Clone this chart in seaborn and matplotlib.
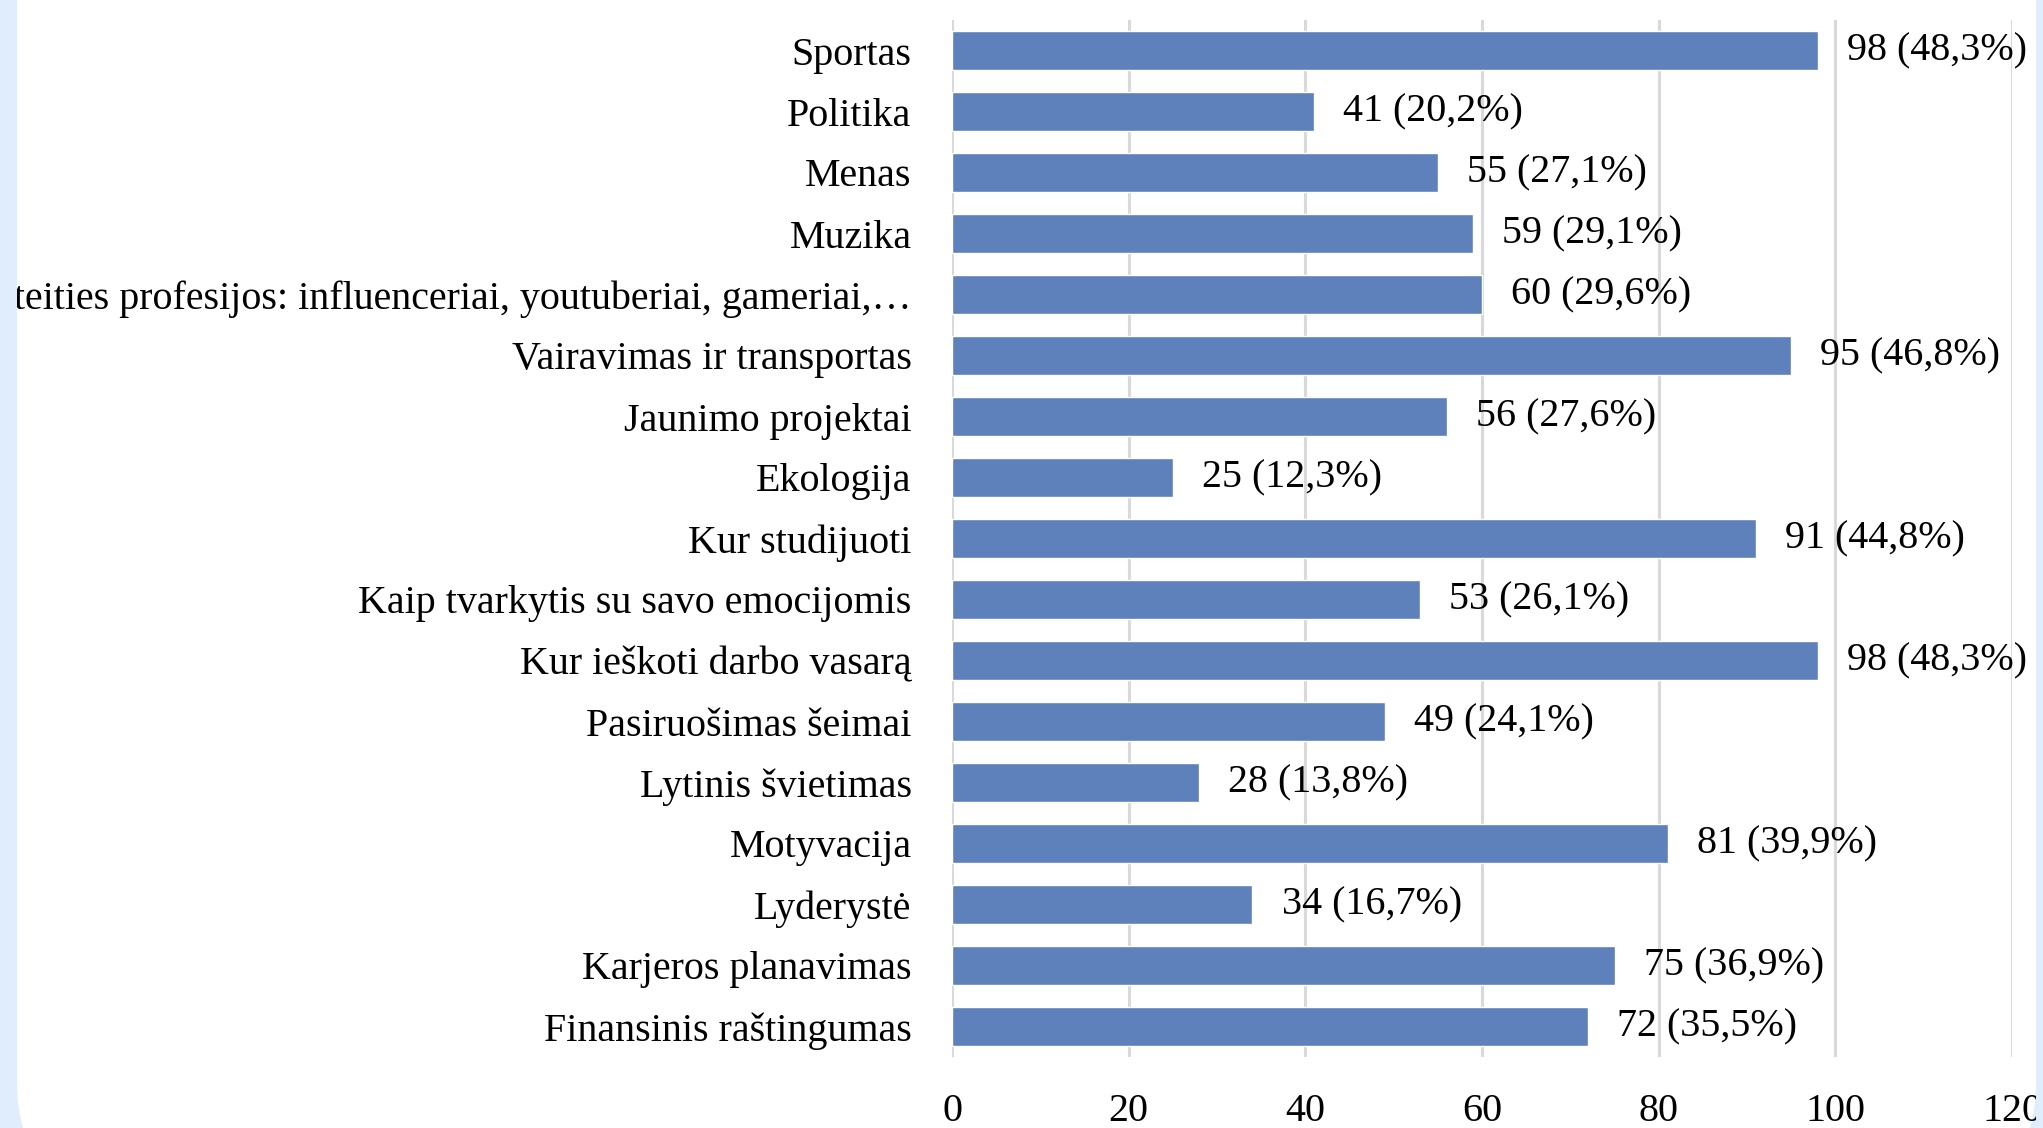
import numpy as np
import pandas as pd
import matplotlib
matplotlib.use("Agg")
import matplotlib.pyplot as plt
import seaborn as sns
from matplotlib.patches import FancyBboxPatch, Rectangle

# ─────────────────────────────────────────────
# DATA
# ─────────────────────────────────────────────
temos = [
    "Sportas",
    "Politika",
    "Menas",
    "Muzika",
    "Ateities profesijos: influenceriai, youtuberiai, gameriai,…",
    "Vairavimas ir transportas",
    "Jaunimo projektai",
    "Ekologija",
    "Kur studijuoti",
    "Kaip tvarkytis su savo emocijomis",
    "Kur ieškoti darbo vasarą",
    "Pasiruošimas šeimai",
    "Lytinis švietimas",
    "Motyvacija",
    "Lyderystė",
    "Karjeros planavimas",
    "Finansinis raštingumas",
]
kiekis = [98, 41, 55, 59, 60, 95, 56, 25, 91, 53, 98, 49, 28, 81, 34, 75, 72]
procentai = ["48,3", "20,2", "27,1", "29,1", "29,6", "46,8", "27,6", "12,3",
             "44,8", "26,1", "48,3", "24,1", "13,8", "39,9", "16,7", "36,9",
             "35,5"]
x_ticks = [0, 20, 40, 60, 80, 100, 120]

df = pd.DataFrame({"tema": temos, "kiekis": kiekis})

# ─────────────────────────────────────────────
# STILIUS
# ─────────────────────────────────────────────
BAR = "#5E81BC"
GRID = "#D9D9D9"
FONAS = "#E0EDFD"
FS = 28.8

sns.set_style("white")
plt.rcParams["font.family"] = ["Liberation Serif", "DejaVu Serif"]
plt.rcParams["text.color"] = "black"
plt.rcParams["xtick.color"] = "black"
plt.rcParams["ytick.color"] = "black"

W, H = 2043, 1128
fig = plt.figure(figsize=(W / 100, H / 100), dpi=100, facecolor=FONAS)

# balta kortelė su apvaliais kampais
kortele = FancyBboxPatch((17, -61), 2036 - 17, H + 200,
                         boxstyle="round,pad=0,rounding_size=106",
                         transform=None, facecolor="white",
                         edgecolor="none", zorder=-5)
fig.patches.append(kortele)

ax = fig.add_axes([952 / W, 1 - 1057 / H, (2012 - 952) / W, (1057 - 20) / H])
ax.set_facecolor("none")

sns.barplot(data=df, x="kiekis", y="tema", orient="h", color=BAR,
            saturation=1, width=0.65, ax=ax, zorder=3)

for i, (v, p) in enumerate(zip(kiekis, procentai)):
    ax.annotate(f"{v} ({p}%)", (v, i), xytext=(21, 0),
                textcoords="offset points", ha="left", va="center",
                fontsize=FS, color="black", zorder=4)

ax.set_xlim(0, 120)
ax.set_ylim(16.5, -0.5)
ax.set_xticks(x_ticks)
ax.set_xticklabels([str(t) for t in x_ticks])
ax.set_xlabel("")
ax.set_ylabel("")
ax.grid(axis="x", color=GRID, linewidth=2.2, zorder=0)
ax.grid(axis="y", visible=False)
ax.tick_params(axis="x", length=0, pad=26, labelsize=FS, labelcolor="black")
ax.tick_params(axis="y", length=0, pad=29, labelsize=FS, labelcolor="black")
for s in ax.spines.values():
    s.set_visible(False)

# šoninės juostos uždengia nukirptą tekstą
fig.patches.append(Rectangle((0, 0), 17, H, transform=None,
                             facecolor=FONAS, edgecolor="none", zorder=10))
fig.patches.append(Rectangle((2036, 0), 10, H, transform=None,
                             facecolor=FONAS, edgecolor="none", zorder=10))

fig.savefig("out.png", dpi=100, facecolor=FONAS)
